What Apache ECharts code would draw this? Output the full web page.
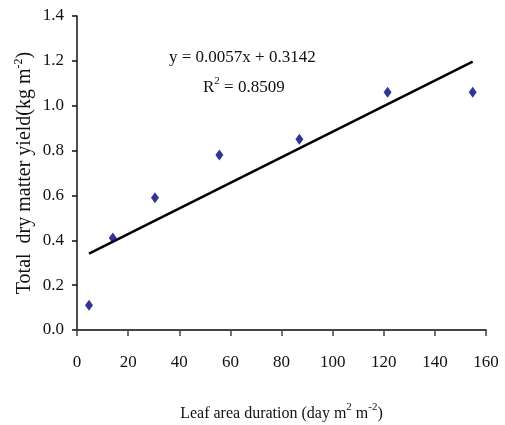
<!DOCTYPE html>
<html>
<head>
<meta charset="utf-8">
<script src="https://cdn.jsdelivr.net/npm/echarts@6/dist/echarts.min.js"></script>
<style>
  html, body { margin: 0; padding: 0; background: #fff; }
  #chart { width: 505px; height: 425px; }
</style>
</head>
<body>
<div id="chart"></div>
<script>
// Leaf area duration (day m2 m-2) and total dry matter yield (kg m-2)
var leafAreaDuration = [4.7, 14.0, 30.5, 55.7, 87.0, 121.5, 154.8];
var dryMatterYield   = [0.11, 0.41, 0.59, 0.78, 0.85, 1.06, 1.06];

// Fitted linear trend, as printed on the chart
var slope = 0.0057;
var intercept = 0.3142;
var rSquared = 0.8509;

var xTicks = [0, 20, 40, 60, 80, 100, 120, 140, 160];
var yTicks = [0.0, 0.2, 0.4, 0.6, 0.8, 1.0, 1.2, 1.4];

var points = leafAreaDuration.map(function (x, i) { return [x, dryMatterYield[i]]; });
var xMin = Math.min.apply(null, leafAreaDuration);
var xMax = Math.max.apply(null, leafAreaDuration);
var trend = [[xMin, slope * xMin + intercept], [xMax, slope * xMax + intercept]];

var serif = 'Liberation Serif';
var chart = echarts.init(document.getElementById('chart'), null, { renderer: 'canvas' });

chart.setOption({
  backgroundColor: '#ffffff',
  animation: false,
  textStyle: { fontFamily: serif },
  grid: { left: 77, right: 19, top: 16, bottom: 95, containLabel: false, outerBoundsMode: 'none' },
  xAxis: {
    type: 'value',
    min: xTicks[0],
    max: xTicks[xTicks.length - 1],
    interval: 20,
    splitLine: { show: false },
    axisLine: { lineStyle: { color: '#444', width: 2 } },
    axisTick: { show: true, length: 6, lineStyle: { color: '#444', width: 1.5 } },
    axisLabel: { margin: 24, fontSize: 17, color: '#111', fontFamily: serif },
    name: '{t|Leaf area duration (day m}{s|2}{t| m}{s|-2}{t|)}',
    nameLocation: 'middle',
    nameGap: 72,
    nameTextStyle: {
      rich: {
        t: { fontSize: 16, color: '#111', fontFamily: serif, verticalAlign: 'bottom', lineHeight: 20 },
        s: { fontSize: 11, color: '#111', fontFamily: serif, verticalAlign: 'top', lineHeight: 20, padding: [0, 0, 10, 0] }
      }
    }
  },
  yAxis: {
    type: 'value',
    min: yTicks[0],
    max: yTicks[yTicks.length - 1],
    interval: 0.2,
    splitLine: { show: false },
    axisLine: { show: true, lineStyle: { color: '#111', width: 1.5 } },
    axisTick: { show: true, length: 5, lineStyle: { color: '#111', width: 1.5 } },
    axisLabel: {
      margin: 13, fontSize: 17, color: '#111', fontFamily: serif,
      formatter: function (v) { return v.toFixed(1); }
    },
    name: '{t|Total  dry matter yield(kg m}{s|-2}{t|)}',
    nameLocation: 'middle',
    nameGap: 42,
    nameMoveOverlap: false,
    nameTextStyle: {
      rich: {
        t: { fontSize: 20, color: '#111', fontFamily: serif, verticalAlign: 'bottom', lineHeight: 22 },
        s: { fontSize: 12, color: '#111', fontFamily: serif, verticalAlign: 'top', lineHeight: 22, padding: [0, 0, 11, 0] }
      }
    }
  },
  series: [
    {
      name: 'Linear trend',
      type: 'line',
      data: trend,
      showSymbol: false,
      lineStyle: { color: '#000', width: 2.5 },
      silent: true,
      z: 2
    },
    {
      name: 'Observed',
      type: 'scatter',
      data: points,
      symbol: 'diamond',
      symbolSize: [8, 11],
      itemStyle: { color: '#00007a' },
      z: 3
    }
  ],
  graphic: [
    {
      type: 'text',
      left: 169,
      top: 49,
      style: {
        text: 'y = ' + slope.toFixed(4) + 'x + ' + intercept.toFixed(4),
        font: '17px "Liberation Serif"',
        fill: '#111'
      }
    },
    {
      type: 'text',
      left: 203,
      top: 76,
      style: {
        text: '{t|R}{s|2}{t| = ' + rSquared.toFixed(4) + '}',
        rich: {
          t: { fontSize: 17, fontFamily: serif, fill: '#111', color: '#111', verticalAlign: 'bottom', lineHeight: 20 },
          s: { fontSize: 11, fontFamily: serif, fill: '#111', color: '#111', verticalAlign: 'top', lineHeight: 20, padding: [0, 0, 10, 0] }
        }
      }
    }
  ]
});
</script>
</body>
</html>
